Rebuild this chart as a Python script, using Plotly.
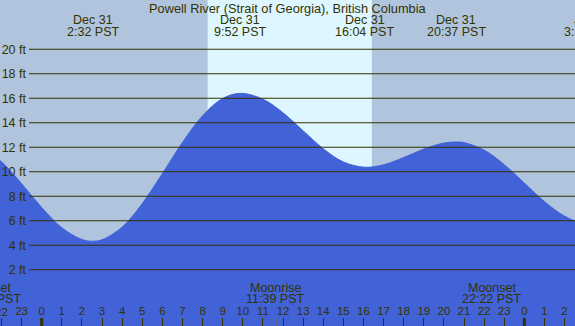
import plotly.graph_objects as go

# ---- data (hours relative to Dec 31 00:00 PST, height in ft) ----
tide_hours = [-3, -2, -1, 0, 1, 2, 2.53, 3, 4, 5, 6, 7, 8, 9, 9.87, 11, 12, 13, 14, 15,
              16.07, 17, 18, 19, 20, 20.62, 21, 22, 23, 24, 25, 26, 27, 28]
tide_heights = [11.99, 10.81, 9.03, 7.08, 5.43, 4.47, 4.33, 4.45, 5.48, 7.40, 9.85, 12.39,
                14.57, 15.98, 16.40, 15.92, 14.81, 13.34, 11.88, 10.80,
                10.37, 10.57, 11.16, 11.85, 12.34, 12.43, 12.38, 11.77, 10.58, 9.08,
                7.57, 6.38, 5.76, 5.90]

extreme_hours = [2.53, 9.87, 16.07, 20.62, 27.25]
extreme_dates = ["Dec 31", "Dec 31", "Dec 31", "Dec 31", "Jan 1"]
extreme_times = ["2:32 PST", "9:52 PST", "16:04 PST", "20:37 PST", "3:15 PST"]

sunrise_hour = 8.25
sunset_hour = 16.42

moon_hours = [11.65, 22.37]
moon_names = ["Moonrise", "Moonset"]
moon_times = ["11:39 PST", "22:22 PST"]
prev_sunset_name = "Sunset"
prev_sunset_time = "16:24 PST"

hour_ticks = list(range(-2, 27))
hour_labels = [str(h % 24) for h in hour_ticks]
edge_hour = -2  # its label sits half off the left edge
midnight_ticks = [0, 24]

ft_ticks = [2, 4, 6, 8, 10, 12, 14, 16, 18, 20]
ft_labels = [f"{v} ft" for v in ft_ticks]

title_text = "Powell River (Strait of Georgia), British Columbia"

# ---- styling ----
X_RANGE = [-2.074, 26.52]
Y_RANGE = [-2.59, 24.02]
W, H = 575, 326
TXT = "#333300"
NIGHT = "#b0c4de"
DAY = "#ddf6ff"
WATER = "#4262d8"
FONT = "Liberation Sans, Arial, sans-serif"
FS = 12.5


def xpaper(h):
    return (h - X_RANGE[0]) / (X_RANGE[1] - X_RANGE[0])


def label(text, x, y, yshift, size=FS):
    return dict(text=text, xref="paper", yref="paper", x=x, y=y, xanchor="center",
                yanchor="middle", yshift=yshift, showarrow=False,
                font=dict(size=size, color=TXT, family=FONT))


fig = go.Figure()
fig.add_trace(go.Scatter(x=[tide_hours[0], tide_hours[-1]], y=[Y_RANGE[0] - 5] * 2,
                         mode="lines", line=dict(width=0, color=WATER),
                         hoverinfo="skip", showlegend=False))
fig.add_trace(go.Scatter(x=tide_hours, y=tide_heights, mode="lines",
                         line=dict(color=WATER, width=1, shape="spline"),
                         fill="tonexty", fillcolor=WATER, showlegend=False))

shapes = []
shapes.append(dict(type="rect", xref="x", yref="paper", x0=sunrise_hour, x1=sunset_hour,
                   y0=0, y1=1, fillcolor=DAY, line=dict(width=0), layer="below"))
for v in ft_ticks:
    shapes.append(dict(type="line", xref="paper", yref="y", x0=29 / W, x1=1, y0=v, y1=v,
                       line=dict(color=TXT, width=1.2), layer="above"))
for m in midnight_ticks:
    shapes.append(dict(type="line", xref="x", yref="paper", x0=m, x1=m, y0=0, y1=8 / H,
                       line=dict(color=TXT, width=3), layer="above"))
for m in moon_hours:
    shapes.append(dict(type="line", xref="x", yref="paper", x0=m, x1=m, y0=0, y1=8 / H,
                       line=dict(color="#7a6a30", width=1), layer="above"))

annotations = [label(title_text, 0.5, 1, -8, size=12.8)]
for h, d, t in zip(extreme_hours, extreme_dates, extreme_times):
    annotations.append(label(d, xpaper(h), 1, -20))
    annotations.append(label(t, xpaper(h), 1, -32))
for h, n, t in zip(moon_hours, moon_names, moon_times):
    annotations.append(label(n, xpaper(h), 0, 38.5))
    annotations.append(label(t, xpaper(h), 0, 27))
annotations.append(label(prev_sunset_name, -9 / W, 0, 38.5))
annotations.append(label(prev_sunset_time, -9 / W, 0, 27))
annotations.append(label(str(edge_hour % 24), xpaper(edge_hour), 0, 14.5, size=11.5))

fig.update_layout(
    width=W, height=H, margin=dict(l=0, r=0, t=0, b=0),
    paper_bgcolor=NIGHT, plot_bgcolor=NIGHT,
    shapes=shapes, annotations=annotations, showlegend=False,
    xaxis=dict(range=X_RANGE, tickvals=hour_ticks, ticktext=hour_labels,
               ticks="inside", ticklen=8, tickwidth=1, tickcolor=TXT,
               ticklabelposition="inside", showgrid=False, zeroline=False,
               showline=False, tickfont=dict(size=11.5, color=TXT, family=FONT),
               fixedrange=True),
    yaxis=dict(range=Y_RANGE, tickvals=ft_ticks, ticktext=ft_labels, anchor="free",
               position=26 / W, ticks="", showgrid=False, zeroline=False, showline=False,
               tickfont=dict(size=FS, color=TXT, family=FONT), fixedrange=True),
)

fig.write_html("out.html", config={"displayModeBar": False},
               post_script="document.body.style.margin='0';document.body.style.overflow='hidden';")
